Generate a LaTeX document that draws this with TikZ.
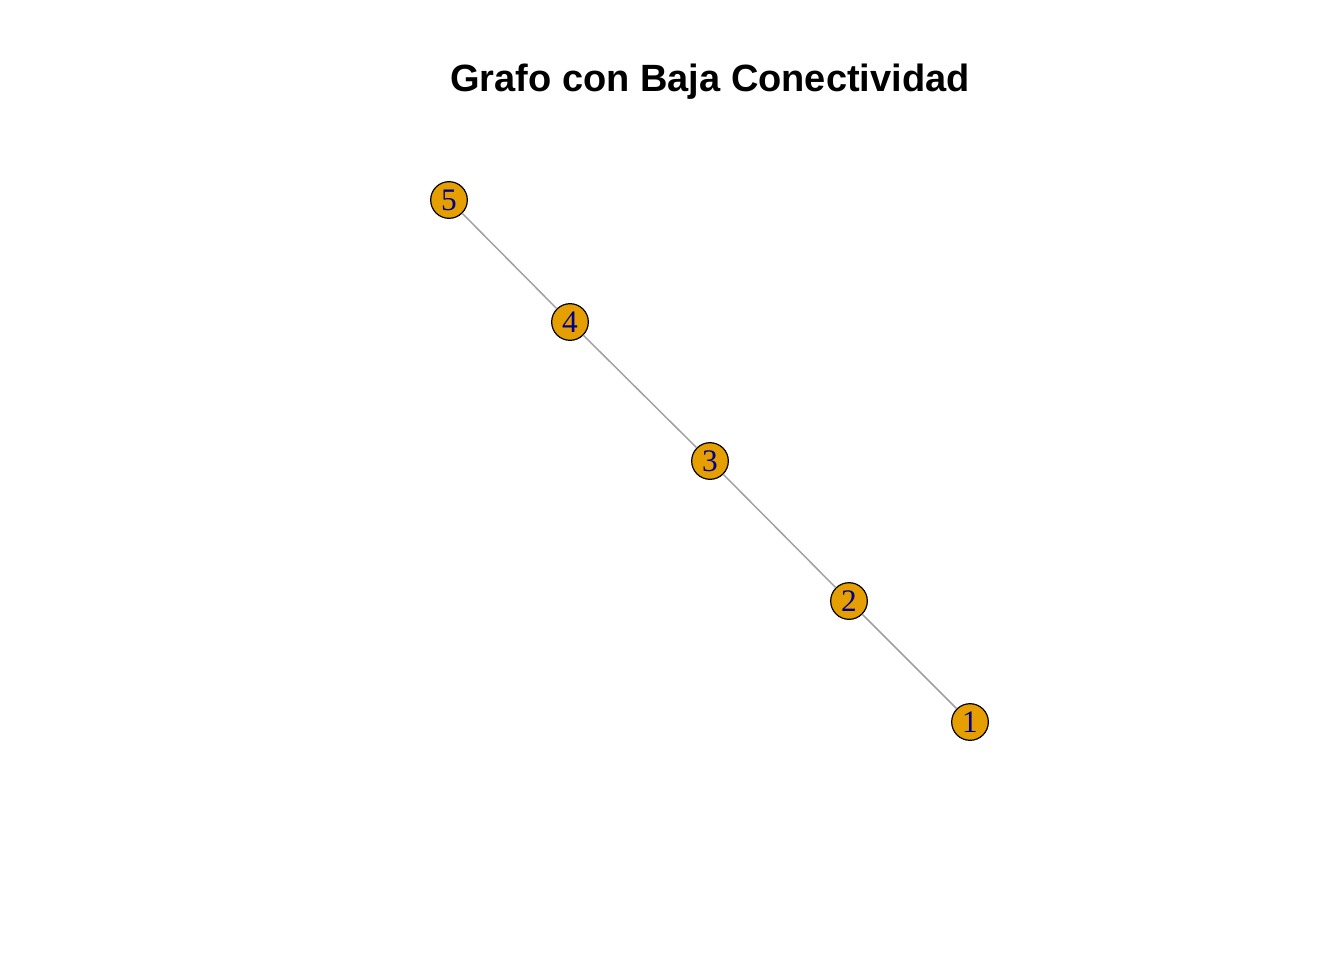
\documentclass[tikz,border=0pt]{standalone}
\usepackage{fontspec}
\setmainfont{Liberation Serif}
\newfontfamily\titlefont{Liberation Sans}
\definecolor{vfill}{HTML}{E69F00}
\definecolor{vlab}{HTML}{00008B}
\definecolor{egray}{HTML}{A0A0A0}
\begin{document}
\begin{tikzpicture}[x=0.75pt,y=-0.75pt,
  vtx/.style={circle,draw=black,line width=0.9pt,fill=vfill,minimum size=27.5pt,inner sep=0pt,text=vlab,font=\fontsize{23.5}{23.5}\selectfont},
  edge/.style={draw=egray,line width=1.1pt}]
\useasboundingbox (0,0) rectangle (1344,960);
\node[font=\titlefont\bfseries\fontsize{28.5}{28.5}\selectfont] (title) at (710,82) {Grafo con Baja Conectividad};
\node[vtx] (v5) at (449,200) {5};
\node[vtx] (v4) at (570,322) {4};
\node[vtx] (v3) at (710,461) {3};
\node[vtx] (v2) at (849,601) {2};
\node[vtx] (v1) at (970,722) {1};
\draw[edge] (v5) -- (v4);
\draw[edge] (v4) -- (v3);
\draw[edge] (v3) -- (v2);
\draw[edge] (v2) -- (v1);
\end{tikzpicture}
\end{document}
